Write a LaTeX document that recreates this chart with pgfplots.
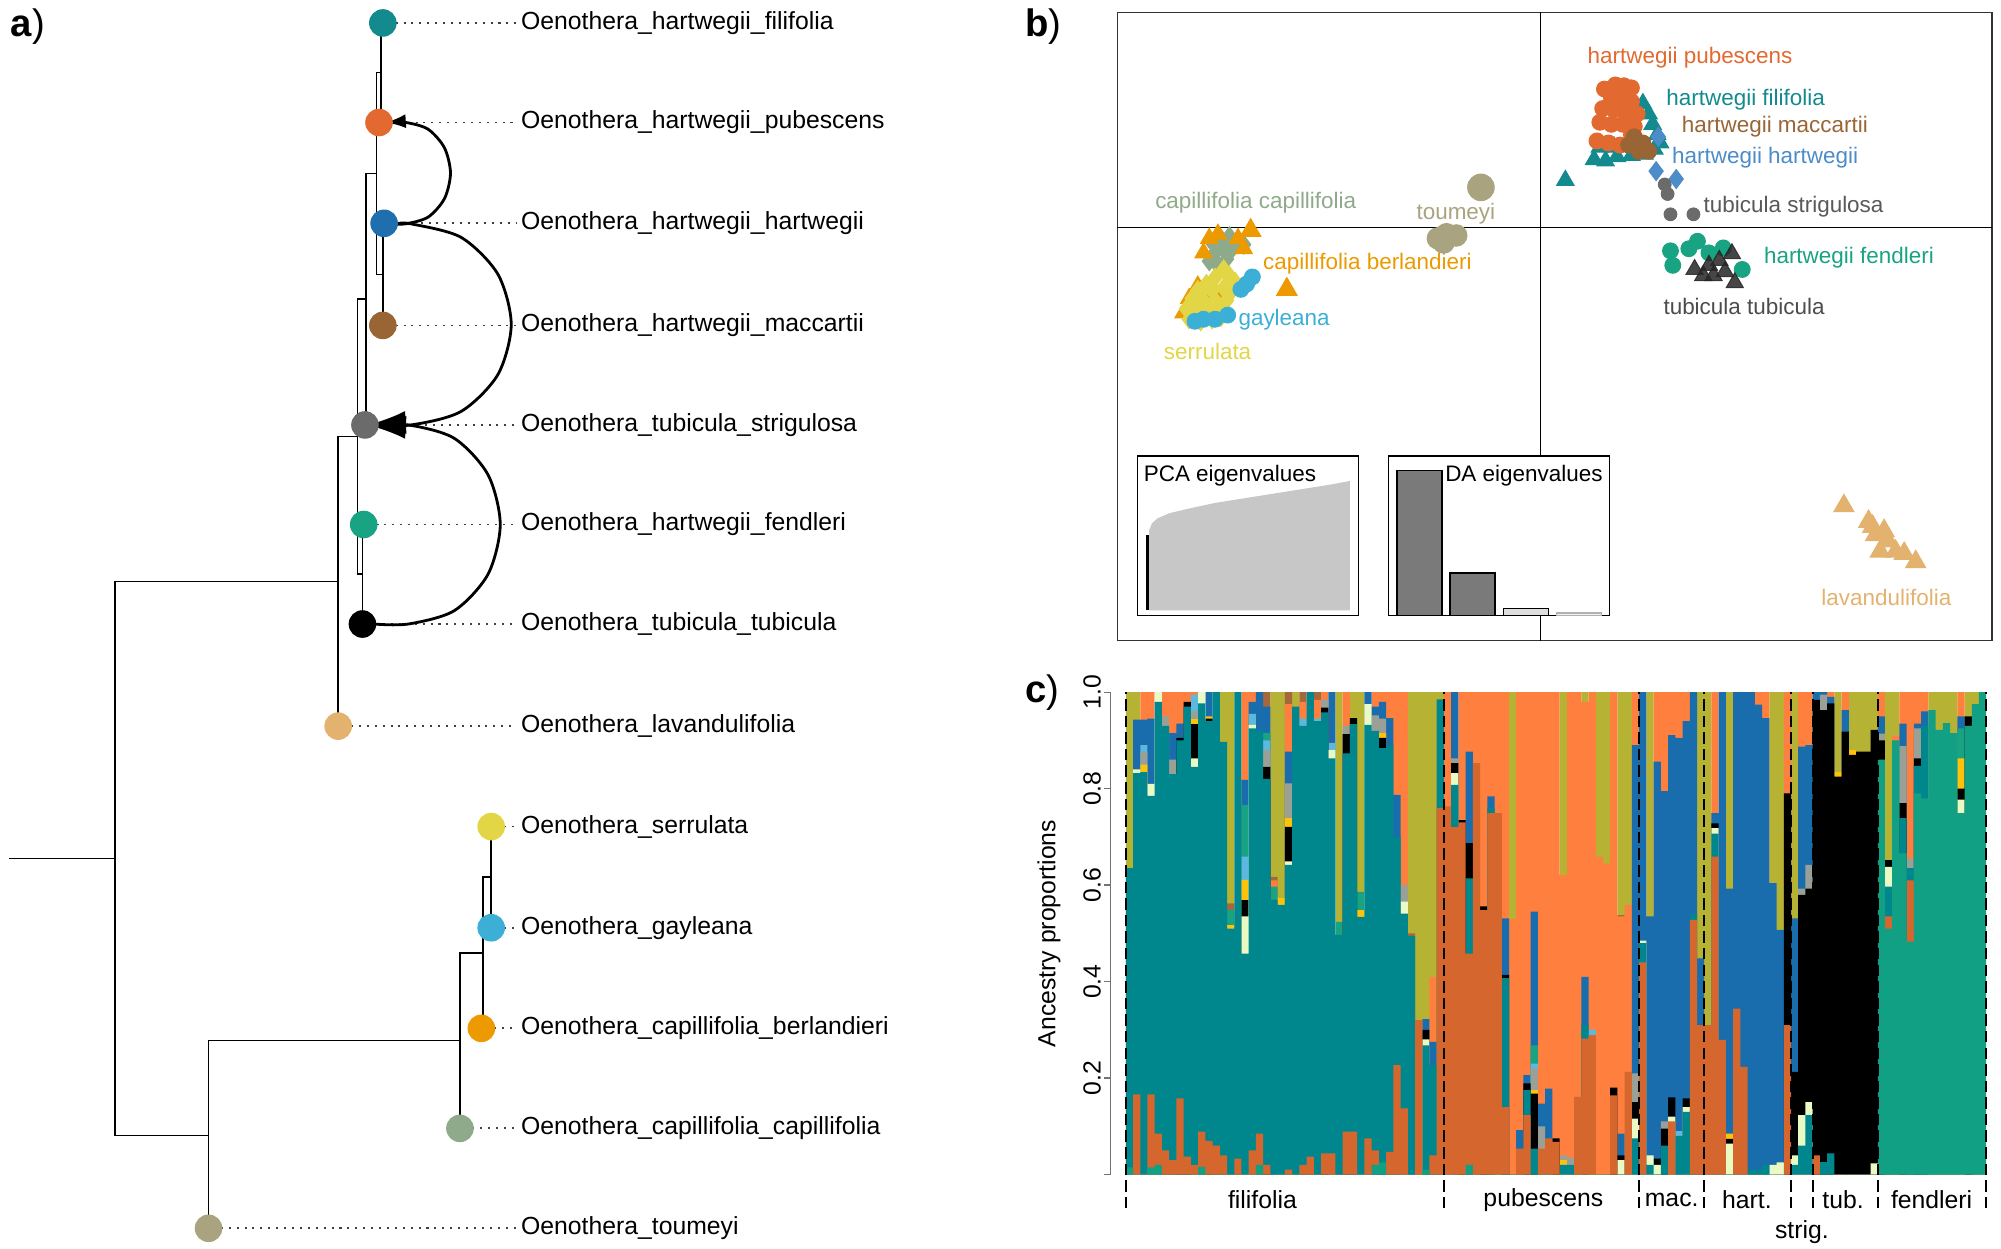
\documentclass[border=0pt]{standalone}
\usepackage{fontspec}
\setmainfont{Liberation Sans}
\usepackage{pgfplots}
\pgfplotsset{compat=1.18}
\usepackage{pgfplotstable}
\usetikzlibrary{arrows.meta}

% tip colours (panels a and b)
\definecolor{cFil}{HTML}{138A8E}
\definecolor{cPub}{HTML}{E2692F}
\definecolor{cHar}{HTML}{1F6FAE}
\definecolor{cMac}{HTML}{9A6535}
\definecolor{cStr}{HTML}{6B6B6B}
\definecolor{cFen}{HTML}{18A383}
\definecolor{cTub}{HTML}{000000}
\definecolor{cLav}{HTML}{E3B26E}
\definecolor{cSer}{HTML}{E2D646}
\definecolor{cGay}{HTML}{3BAFD6}
\definecolor{cBer}{HTML}{EC9A00}
\definecolor{cCap}{HTML}{8FAA8A}
\definecolor{cTou}{HTML}{A9A47F}
\definecolor{cHarB}{HTML}{4C8CC8}

% cluster colours (panel c)
\definecolor{kGrn}{HTML}{12A085}
\definecolor{kDor}{HTML}{D4662E}
\definecolor{kTea}{HTML}{00878E}
\definecolor{kLye}{HTML}{EAFAC4}
\definecolor{kBlk}{HTML}{000000}
\definecolor{kGld}{HTML}{FFC20A}
\definecolor{kGry}{HTML}{9AA096}
\definecolor{kLbl}{HTML}{5CB8DC}
\definecolor{kGr2}{HTML}{18A383}
\definecolor{kBlu}{HTML}{1A6DAD}
\definecolor{kOrg}{HTML}{FF7F3F}
\definecolor{kBrn}{HTML}{A5683C}
\definecolor{kOlv}{HTML}{B6B334}

\newcommand\lbl{\fontsize{9.7}{11.6}\selectfont}
\newcommand\blbl{\fontsize{8.8}{10.5}\selectfont}
\newcommand\plbl{\fontsize{15}{18}\selectfont}

% ancestry: top of each cluster segment (0 = cluster absent)
\pgfplotstableread{
i grn dor tea lye blk gld gry lbl gr2 blu org brn olv
0 0.015 0 0.635 0 0 0 0 0 0 0 0 0 1
1 0 0.166 0.832 0.84 0 0 0 0 0 0.943 0 0 1
2 0 0 0.834 0 0 0.85 0.876 0.89 0 0.943 1 0 0
3 0.015 0.166 0.785 0.81 0 0 0 0 0 0.945 1 0 0
4 0.02 0.085 0.98 1 0 0 0 0 0 0 0 0 0
5 0 0.05 0.93 0 0 0 0.95 0 0 0 1 0 0
6 0 0.03 0.83 0 0 0 0.86 0 0 0.915 1 0 0
7 0 0.158 0.90 0 0.905 0 0 0 0 0.935 1 0 0
8 0 0.037 0.97 0 0.98 0 0 0 0 0 1 0 0
9 0 0.02 0.845 0.863 0.934 0.944 0.96 0.995 0 0 1 0 0
10 0.016 0.089 0.977 1 0 0 0 0 0 0 0 0 0
11 0 0.07 0.94 0 0.945 0.95 0 0 0 1 0 0 0
12 0 0.06 1 0 0 0 0 0 0 0 0 0 0
13 0 0.04 0.897 0 0 0 0 0 0 0 0 0 1
14 0 0 0.51 0 0 0.517 0 0 0.548 0 0 0.562 1
15 0 0.033 1 0 0 0 0 0 0 0 0 0 0
16 0 0 0.458 0.535 0.569 0.611 0 0.659 0.766 0.818 1 0 0
17 0 0.05 0.925 0.932 0 0 0 0.955 0 0.98 1 0 0
18 0.02 0.085 0.92 0 0 0 0 0 0 1 0 0 0
19 0 0.02 0.82 0 0.845 0 0.88 0.90 0.915 0.97 0 1 0
20 0 0 0.57 0 0 0 0 0 0.597 0 0.61 0.617 1
21 0 0 0.559 0 0 0.573 0 0 0 0 0 0 1
22 0 0.01 0.642 0.649 0.721 0.739 0.811 0 0 0.877 0.975 1 0
23 0 0 0.97 0 0 0 0 0 0 0 0 0 1
24 0 0.02 0.93 0 0 0 0 0.945 0 0 0.98 1 0
25 0 0.037 1 0 0 0 0 0 0 0 0 0 0
26 0 0 0.94 0 0 0 0 0.945 0 0 0.984 1 0
27 0 0.044 0.958 0 0.968 0 0.985 0 0 0 1 0 0
28 0 0.044 0.863 0.88 0 0 0 0.895 0 1 0 0 0
29 0 0 0.497 0 0 0 0 0 0.524 0 0 0 1
30 0 0.089 0.873 0 0.913 0 0.93 0 0 0 1 0 0
31 0 0.089 0.934 0 0.946 0 0 0 0 0 0 0 1
32 0 0 0.534 0 0 0.548 0 0 0.586 0 0 0 1
33 0 0.075 0.932 0.975 0 0 0 0 0 1 0 0 0
34 0.02 0.05 0.92 0 0 0 0.952 0 0 0.97 1 0 0
35 0.025 0 0.884 0 0.905 0.915 0.945 0 0 0.98 1 0 0
36 0 0.047 0.89 0 0 0 0 0 0 0.946 1 0 0
37 0 0.227 0.70 0 0 0 0 0 0 0.787 1 0 0
38 0 0.137 0.541 0.566 0 0 0.60 0 0 0 1 0 0
39 0 0 0.495 0 0 0 0 0 0 0 0 0.50 1
40 0 0.32 0 0 0 0 0 0 0 0 0 0 1
41 0.01 0 0.268 0.28 0.30 0 0 0 0 0.322 0 0 1
42 0 0.04 0.227 0 0 0 0 0 0 0.275 0.41 0 1
43 0 0.76 0.985 0 0 0 0 0 0 0 0 0 1
44 0 0.763 0 0 0 0 0 0 0 0 1 0 0
45 0 0.72 0.808 0.832 0.853 0 0.863 0 0 1 0 0 0
46 0 0.73 0 0 0.735 0 0 0 0 0 1 0 0
47 0.02 0.458 0.614 0 0.687 0 0 0 0 0.877 1 0 0
48 0 0.853 0 0 0 0 0 0 0 0 1 0 0
49 0 0.548 0 0 0.556 0 0 0 0 0 1 0 0
50 0 0.749 0.76 0 0 0 0 0 0 0.784 1 0 0
51 0 0.749 0 0 0 0 0 0 0 0 1 0 0
52 0 0.14 0.407 0 0.414 0 0 0 0 0.531 1 0 0
53 0 0 0 0 0 0 0 0 0 0 0.53 0 1
54 0 0.054 0 0 0 0 0 0 0 0.092 1 0 0
55 0 0.123 0.175 0 0.189 0 0 0 0 0.206 1 0 0
56 0 0 0.054 0 0.168 0.175 0.22 0.23 0.268 0.545 1 0 0
57 0 0.054 0 0 0 0 0.10 0 0 0.147 1 0 0
58 0 0.075 0 0 0 0 0 0 0 0.178 1 0 0
59 0 0.068 0 0 0.075 0 0 0 0 0 1 0 0
60 0 0 0.02 0 0 0.03 0.04 0 0 0 0.621 0 1
61 0 0 0.02 0 0 0 0.035 0 0 0 1 0 0
62 0 0.161 0 0 0 0 0 0 0 0 1 0 0
63 0 0.282 0.31 0 0 0 0 0 0 0.41 0.98 0 1
64 0 0.289 0 0 0 0 0 0.30 0 0 1 0 0
65 0 0 0 0 0 0 0 0 0 0 0.659 0 1
66 0 0 0 0 0 0 0 0 0 0 0.645 0 1
67 0 0.164 0 0 0.18 0 0 0 0 0 1 0 0
68 0 0 0 0.03 0.04 0 0 0 0 0.085 0.535 0.538 1
69 0 0.213 0 0 0 0 0 0 0 0 0.559 0 1
70 0 0 0.075 0.116 0.15 0 0.21 0 0 0.89 1 0 0
71 0 0.44 0.48 0.485 0 0 0 0 0 1 0 0 0
72 0 0 0.02 0.04 0 0 0 0 0 0.535 0 0 1
73 0 0 0 0.02 0.033 0 0 0 0 0.856 1 0 0
74 0 0 0.06 0 0.095 0 0.11 0 0 0.795 1 0 0
75 0 0.11 0 0.12 0.16 0 0 0 0 0.911 1 0 0
76 0 0 0.08 0 0 0 0 0.09 0 0.905 1 0 0
77 0 0 0.13 0.14 0.158 0 0 0 0 0.94 1 0 0
78 0 0.528 0.54 0 0 0 0 0 0 1 0 0 0
79 0 0.31 0 0 0 0 0 0 0 0.448 0 0 1
80 0 0.31 0 0 0 0 0 0 0 0 0 0 1
81 0 0.659 0.707 0.718 0.728 0 0 0 0 0.749 1 0 0
82 0 0.279 0 0 0 0 0 0 0 1 0 0 0
83 0 0 0 0.064 0.074 0.085 0 0 0 0.593 0 0 1
84 0 0.344 0 0 0 0 0 0 0 1 0 0 0
85 0 0.223 0 0 0 0 0 0 0 1 0 0 0
86 0 0 0.01 0 0 0 0 0 0 1 0 0 0
87 0 0 0.01 0 0 0 0 0 0 0.974 1 0 0
88 0 0 0.02 0 0 0 0 0 0 0.946 1 0 0
89 0 0 0 0.02 0 0 0 0 0 0.604 0 0 1
90 0 0 0 0.025 0 0 0 0 0 0.507 0 0 1
91 0 0.31 0 0 0.79 0 0 0 0 0 1 0 0
92 0 0 0.02 0.04 0.213 0 0 0 0 0.531 0 0 1
93 0 0 0.06 0.123 0.58 0 0.593 0 0 0.887 1 0 0
94 0 0 0.123 0.15 0.593 0 0.642 0 0 0.89 1 0 0
95 0 0.04 0 0 0.984 0 0 0 0 1 0 0 0
96 0 0 0.026 0 0.963 0 0.995 0 0 1 0 0 0
97 0 0 0.044 0 0.977 0 0 0 0 0.99 1 0 0
98 0 0 0 0 0.825 0.835 0 0 0 0 0 0 1
99 0 0 0 0 0.918 0 0 0 0 0.963 1 0 0
100 0 0 0 0 0.87 0.88 0 0 0 0 0 0 1
101 0 0 0 0 0.877 0 0 0 0 0 0 0 1
102 0 0 0 0 0.877 0 0 0 0 0 0 0 1
103 0 0 0 0.023 0.922 0 0 0 0 0 0 0 1
104 0.86 0 0 0 0.9 0 0.914 0 0 0.95 1 0 0
105 0.51 0.535 0.597 0.638 0.652 0 0 0 0 0 0 0 1
106 0.90 0 0 0 0 0 0 0 0 0 0.91 0 1
107 0.666 0 0.739 0 0.77 0 0.888 0 0 0.935 1 0 0
108 0.483 0.61 0.635 0 0 0 0.655 0 0 0 1 0 0
109 0.79 0 0.847 0 0.863 0 0.925 0 0 0.935 1 0 0
110 0.78 0 0.93 0 0 0 0 0 0 0.96 1 0 0
111 0.963 0 0 0 0 0 0 0 0 0 0 0 1
112 0.922 0 0 0 0 0 0 0 0 0 0 0 1
113 0.936 0 0 0 0 0 0 0 0 0 0 0 1
114 0.915 0 0 0 0 0 0 0 0 0 0 0 1
115 0.749 0 0 0.777 0.80 0.863 0 0 0.925 0.95 1 0 0
116 0.93 0 0 0 0.95 0 0 0 0 0 0 0 1
117 0.975 0 0 0 0 0 0 0 0 0 0 0 1
118 1 0 0 0 0 0 0 0 0 0 0 0 0
}\Q

\pgfplotsset{
  tree/.style={black, line width=0.6pt, mark=none},
  lead/.style={black!75, line width=0.7pt, dash pattern=on 0.8pt off 2.3pt, mark=none},
  tip/.style={only marks, mark=*, mark size=5.2pt},
  mig/.style={black, line width=1.1pt, smooth, mark=none},
  seg/.style={ybar, bar width=1, bar shift=0pt, draw=none},
  sep/.style={black, line width=0.7pt, dash pattern=on 4.5pt off 2pt, mark=none},
  circ/.style={only marks, mark=*, mark size=3.1pt},
  tri/.style={only marks, mark=triangle*, mark size=3.9pt},
  dia/.style={only marks, mark=diamond*, mark size=3.7pt},
}

\begin{document}
\begin{tikzpicture}
\path[use as bounding box] (0,0) rectangle (784pt,489pt);

% ---------------- a) tree ----------------
\begin{axis}[at={(0pt,0pt)}, anchor=south west, width=784pt, height=489pt,
  scale only axis, xmin=0, xmax=1568, ymin=0, ymax=978, y dir=reverse,
  hide axis, clip=false]
\addplot[tree] coordinates {(7,672.6) (90,672.6)};
\addplot[tree] coordinates {(265,455.5) (90,455.5) (90,889.7) (163.4,889.7)};
\addplot[tree] coordinates {(265,569) (265,342) (280,342)};
\addplot[tree] coordinates {(284,450) (280,450) (280,234.5) (287,234.5)};
\addplot[tree] coordinates {(284,411) (284,489)};
\addplot[tree] coordinates {(287,333) (287,136) (295,136)};
\addplot[tree] coordinates {(300,215) (295,215) (295,57) (298.5,57)};
\addplot[tree] coordinates {(298.5,18) (298.5,96)};
\addplot[tree] coordinates {(300,175) (300,255)};
\addplot[tree] coordinates {(163.4,962.5) (163.4,815.4) (360.4,815.4)};
\addplot[tree] coordinates {(360.4,884.2) (360.4,746.6) (378.6,746.6)};
\addplot[tree] coordinates {(378.6,805.8) (378.6,687.4) (384.9,687.4)};
\addplot[tree] coordinates {(384.9,647.7) (384.9,727)};

\addplot[lead] coordinates {(310,18) (405,18)};
\addplot[lead] coordinates {(307,96) (405,96)};
\addplot[lead] coordinates {(311,175) (405,175)};
\addplot[lead] coordinates {(310,255) (405,255)};
\addplot[lead] coordinates {(296,333) (405,333)};
\addplot[lead] coordinates {(295,411) (405,411)};
\addplot[lead] coordinates {(294,489) (405,489)};
\addplot[lead] coordinates {(275,569) (405,569)};
\addplot[lead] coordinates {(395,647.7) (405,647.7)};
\addplot[lead] coordinates {(395,727) (405,727)};
\addplot[lead] coordinates {(387,805.8) (405,805.8)};
\addplot[lead] coordinates {(370,884.2) (405,884.2)};
\addplot[lead] coordinates {(173,962.5) (405,962.5)};

\addplot[tip, cFil] coordinates {(300,18)};
\addplot[tip, cPub] coordinates {(297,96)};
\addplot[tip, cHar] coordinates {(301,175)};
\addplot[tip, cMac] coordinates {(300,255)};
\addplot[tip, cStr] coordinates {(286,333)};
\addplot[tip, cFen] coordinates {(285,411)};
\addplot[tip, cTub] coordinates {(284,489)};
\addplot[tip, cLav] coordinates {(265,569)};
\addplot[tip, cSer] coordinates {(384.9,647.7)};
\addplot[tip, cGay] coordinates {(384.9,727)};
\addplot[tip, cBer] coordinates {(377.2,805.8)};
\addplot[tip, cCap] coordinates {(360.4,884.2)};
\addplot[tip, cTou] coordinates {(163.4,962.5)};

% migration edges
\addplot[mig, -{Latex[length=8pt,width=5.5pt]}] coordinates {(306,175.4) (318,175.4) (335.5,170.1) (348.3,155.6) (353,135.7) (348.3,115.9) (335.5,101.3) (318,96) (302,96)};
\addplot[mig, -{Latex[length=15pt,width=9pt]}] coordinates {(311,175.4) (322,175.4) (361.3,186) (390.1,214.8) (400.6,254.2) (390.1,293.6) (361.3,322.4) (322,333) (288,333)};
\addplot[mig, -{Latex[length=15pt,width=9pt]}] coordinates {(293,489) (320,489) (356,478.5) (382.4,450) (392,411) (382.4,372) (356,343.5) (320,333) (288,333)};

\begin{scope}[every node/.style={anchor=west, inner sep=0pt, font=\lbl}]
\node at (axis cs:408,18) {Oenothera\_hartwegii\_filifolia};
\node at (axis cs:408,96) {Oenothera\_hartwegii\_pubescens};
\node at (axis cs:408,175) {Oenothera\_hartwegii\_hartwegii};
\node at (axis cs:408,255) {Oenothera\_hartwegii\_maccartii};
\node at (axis cs:408,333) {Oenothera\_tubicula\_strigulosa};
\node at (axis cs:408,411) {Oenothera\_hartwegii\_fendleri};
\node at (axis cs:408,489) {Oenothera\_tubicula\_tubicula};
\node at (axis cs:408,569) {Oenothera\_lavandulifolia};
\node at (axis cs:408,647.7) {Oenothera\_serrulata};
\node at (axis cs:408,727) {Oenothera\_gayleana};
\node at (axis cs:408,805.8) {Oenothera\_capillifolia\_berlandieri};
\node at (axis cs:408,884.2) {Oenothera\_capillifolia\_capillifolia};
\node at (axis cs:408,962.5) {Oenothera\_toumeyi};
\end{scope}

\node[anchor=west, inner sep=0pt, font=\plbl] at (axis cs:8,21) {\textbf{a})};
\node[anchor=west, inner sep=0pt, font=\plbl] at (axis cs:803,21) {\textbf{b})};
\node[anchor=west, inner sep=0pt, font=\plbl] at (axis cs:803,543) {\textbf{c})};
\node[rotate=90, inner sep=0pt, font=\lbl] at (axis cs:822,731.5) {Ancestry proportions};
\end{axis}

% ---------------- b) DAPC scatter ----------------
\begin{axis}[at={(437.8pt,238pt)}, anchor=south west, width=342.7pt, height=246.15pt,
  scale only axis, xmin=30, xmax=1553, ymin=30, ymax=1545, y dir=reverse,
  xtick=\empty, ytick=\empty, axis line style={black!80, line width=0.5pt}, clip=false]
\addplot[black, line width=0.45pt, mark=none] coordinates {(766,30) (766,1545)};
\addplot[black, line width=0.45pt, mark=none] coordinates {(30,548) (1553,548)};

\addplot[tri, cFil] coordinates {(860,385) (880,388) (900,378) (925,375) (948,372) (965,360) (870,355) (895,355) (945,250) (955,275) (962,300) (970,325) (975,345) (810,435)};
\addplot[circ, cPub] coordinates {(878,215) (897,205) (912,207) (925,212) (890,235) (908,240) (925,245) (875,262) (895,265) (915,270) (935,275) (870,295) (890,300) (910,300) (930,305) (865,340) (885,345) (905,350) (925,325)};
\addplot[circ, cMac] coordinates {(930,330) (945,345) (955,365) (938,365) (920,350)};
\addplot[dia, cHarB] coordinates {(968,413) (1003,432) (972,330)};
\addplot[circ, cStr, mark size=2.5pt] coordinates {(983,445) (988,468) (993,517) (1033,517)};

\addplot[dia, cCap] coordinates {(195,585) (210,575) (225,570) (240,578) (250,590) (200,610) (215,600) (190,630) (205,640) (220,625) (230,600)};
\addplot[tri, cBer] coordinates {(190,575) (205,565) (240,575) (250,600) (180,610) (170,690) (155,720) (145,755) (215,745) (200,705)};
\addplot[tri, cBer, mark size=4.6pt] coordinates {(262,556) (325,698)};
\addplot[dia, cSer] coordinates {(215,650) (225,665) (235,680) (200,670) (185,685) (170,700) (195,700) (215,695) (230,700) (160,720) (180,725) (200,725) (220,725) (150,745) (170,750) (190,750) (210,745) (155,770) (175,775) (195,770) (210,765)};
\addplot[circ, cGay] coordinates {(265,668) (255,685) (245,698) (222,760) (200,770) (165,775) (180,770)};
\addplot[circ, cTou, mark size=4.2pt] coordinates {(588,575) (603,565) (620,568) (598,585)};
\addplot[circ, cTou, mark size=5.2pt] coordinates {(663,452)};

\addplot[circ, cFen] coordinates {(993,605) (997,640) (1040,582) (1025,600) (1085,598) (1118,650) (1060,610)};
\addplot[tri, black!85, fill opacity=0.85, draw opacity=0.85] coordinates {(1035,650) (1060,640) (1078,628) (1100,612) (1105,682) (1050,665) (1088,655) (1068,665)};
\addplot[tri, cLav, mark size=4.5pt] coordinates {(1295,1220) (1338,1258) (1350,1290) (1365,1280) (1372,1305) (1385,1330) (1400,1335) (1420,1355) (1358,1330) (1345,1270)};

\begin{scope}[every node/.style={anchor=west, inner sep=0pt, font=\blbl}]
\node[text=cPub] at (axis cs:848,140) {hartwegii pubescens};
\node[text=cFil] at (axis cs:985,240) {hartwegii filifolia};
\node[text=cMac] at (axis cs:1012,305) {hartwegii maccartii};
\node[text=cHarB] at (axis cs:995,380) {hartwegii hartwegii};
\node[text=black!65] at (axis cs:1050,498) {tubicula strigulosa};
\node[text=cCap] at (axis cs:95,490) {capillifolia capillifolia};
\node[text=cTou] at (axis cs:550,515) {toumeyi};
\node[text=cBer] at (axis cs:283,637) {capillifolia berlandieri};
\node[text=cGay] at (axis cs:240,770) {gayleana};
\node[text=cSer] at (axis cs:110,848) {serrulata};
\node[text=cFen] at (axis cs:1155,622) {hartwegii fendleri};
\node[text=black!70] at (axis cs:980,740) {tubicula tubicula};
\node[text=cLav] at (axis cs:1255,1440) {lavandulifolia};
\end{scope}
\end{axis}

% PCA eigenvalues inset
\begin{axis}[at={(445.7pt,247.75pt)}, anchor=south west, width=86.6pt, height=62.55pt,
  scale only axis, xmin=65, xmax=450, ymin=0, ymax=385, xtick=\empty, ytick=\empty,
  axis background/.style={fill=white}, axis line style={black, line width=0.6pt}, clip=false]
\addplot[fill=black!22, draw=none, mark=none] coordinates {(85,13) (85,205) (90,223) (100,235) (120,247) (150,257) (200,272) (250,283) (300,294) (350,305) (400,316) (435,325) (435,13)};
\addplot[black, line width=1.3pt, mark=none] coordinates {(82,13) (82,195)};
\node[anchor=west, inner sep=0pt, font=\blbl] at (axis cs:75,337) {PCA eigenvalues};
\end{axis}

% DA eigenvalues inset
\begin{axis}[at={(544pt,247.75pt)}, anchor=south west, width=86.65pt, height=62.55pt,
  scale only axis, xmin=502, xmax=887, ymin=0, ymax=385, xtick=\empty, ytick=\empty,
  axis background/.style={fill=white}, axis line style={black, line width=0.6pt}, clip=false]
\addplot[ybar, bar width=78, bar shift=0pt, fill=black!52, draw=black, line width=0.6pt] coordinates {(556,350) (648.5,103)};
\addplot[ybar, bar width=78, bar shift=0pt, fill=black!13, draw=black, line width=0.6pt] coordinates {(741.5,17)};
\addplot[ybar, bar width=78, bar shift=0pt, fill=black!6, draw=black!30, line width=0.6pt] coordinates {(833.5,7)};
\node[anchor=west, inner sep=0pt, font=\blbl] at (axis cs:600,337) {DA eigenvalues};
\end{axis}

% ---------------- c) ancestry proportions ----------------
\begin{axis}[at={(435pt,28.8pt)}, anchor=south west, width=343.2pt, height=189pt,
  scale only axis, xmin=-2.65, xmax=118.5, ymin=0, ymax=1,
  axis x line=none, axis y line=left,
  y axis line style={-, black!55, line width=0.5pt},
  ytick={0,0.2,0.4,0.6,0.8,1}, yticklabels={,0.2,0.4,0.6,0.8,1.0},
  tick align=outside, major tick length=2.5pt,
  ytick style={black!55, line width=0.5pt},
  yticklabel style={rotate=90, anchor=south, font=\lbl, inner sep=1pt},
  clip=false]
\addplot[seg, fill=kOlv] table[x=i, y=olv] \Q;
\addplot[seg, fill=kBrn] table[x=i, y=brn] \Q;
\addplot[seg, fill=kOrg] table[x=i, y=org] \Q;
\addplot[seg, fill=kBlu] table[x=i, y=blu] \Q;
\addplot[seg, fill=kGr2] table[x=i, y=gr2] \Q;
\addplot[seg, fill=kLbl] table[x=i, y=lbl] \Q;
\addplot[seg, fill=kGry] table[x=i, y=gry] \Q;
\addplot[seg, fill=kGld] table[x=i, y=gld] \Q;
\addplot[seg, fill=kBlk] table[x=i, y=blk] \Q;
\addplot[seg, fill=kLye] table[x=i, y=lye] \Q;
\addplot[seg, fill=kTea] table[x=i, y=tea] \Q;
\addplot[seg, fill=kDor] table[x=i, y=dor] \Q;
\addplot[seg, fill=kGrn] table[x=i, y=grn] \Q;

\addplot[sep] coordinates {(-0.5,-0.07) (-0.5,1)};
\addplot[sep] coordinates {(43.5,-0.07) (43.5,1)};
\addplot[sep] coordinates {(70.5,-0.07) (70.5,1)};
\addplot[sep] coordinates {(79.5,-0.07) (79.5,1)};
\addplot[sep] coordinates {(91.5,-0.07) (91.5,1)};
\addplot[sep] coordinates {(94.5,-0.07) (94.5,1)};
\addplot[sep] coordinates {(103.5,-0.07) (103.5,1)};
\addplot[sep] coordinates {(118.5,-0.07) (118.5,1)};

\begin{scope}[every node/.style={font=\lbl, inner sep=0pt}]
\node at (axis cs:18.4,-0.053) {filifolia};
\node at (axis cs:57.25,-0.053) {pubescens};
\node at (axis cs:75,-0.053) {mac.};
\node at (axis cs:85.4,-0.053) {hart.};
\node at (axis cs:98.7,-0.053) {tub.};
\node at (axis cs:110.95,-0.053) {fendleri};
\node at (axis cs:93,-0.12) {strig.};
\end{scope}
\end{axis}
\end{tikzpicture}
\end{document}
